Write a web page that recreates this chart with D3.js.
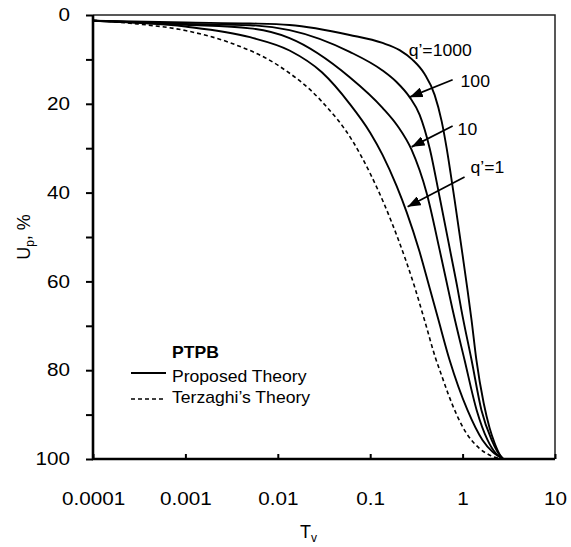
<!DOCTYPE html>
<html>
<head>
<meta charset="utf-8">
<script src="https://cdn.jsdelivr.net/npm/d3@7"></script>
<style>
  body { margin: 0; background: #fff; }
  text { font-family: "Liberation Sans", Arial, sans-serif; fill: #000; }
</style>
</head>
<body>
<svg id="chart" width="571" height="547"></svg>
<script>
// values (Tv, Up %)
const tvTerzaghi = [0.0001, 0.0003, 0.001, 0.003, 0.01, 0.03, 0.065, 0.1, 0.2, 0.3, 0.388, 0.51, 0.6, 0.7, 0.87, 1.1, 1.5, 2.0, 2.75];
const upTerzaghi = [1.2, 2.0, 3.5, 6.2, 11.3, 19.5, 28.5, 35.7, 50.4, 61.0, 68.8, 77.3, 81.5, 85.4, 90.2, 94.2, 97.5, 99.2, 100];

const tvQ1 = [0.0001, 0.001, 0.005, 0.0134, 0.03, 0.06, 0.1, 0.136, 0.193, 0.248, 0.343, 0.44, 0.54, 0.723, 1.13, 1.64, 2.11, 2.75];
const upQ1 = [1.3, 2.6, 5.0, 8.0, 12.9, 20.0, 26.5, 31.5, 38.5, 44.4, 53.4, 61.5, 68.2, 77.7, 89, 95.7, 98.4, 100];

const tvQ10 = [0.0001, 0.001, 0.005, 0.0134, 0.06, 0.136, 0.198, 0.281, 0.408, 0.564, 0.70, 0.78, 1.05, 1.42, 1.86, 2.3, 2.75];
const upQ10 = [1.3, 2.2, 3.0, 5.2, 14, 20.9, 25.0, 30.4, 40.1, 52.9, 61.9, 66.4, 77.7, 89, 95.7, 98.8, 100];

const tvQ100 = [0.0001, 0.001, 0.005, 0.0134, 0.06, 0.136, 0.193, 0.267, 0.343, 0.44, 0.564, 0.75, 0.88, 0.97, 1.25, 1.60, 2.06, 2.39, 2.75];
const upQ100 = [1.3, 2.0, 2.3, 3.4, 8.3, 12.5, 15.1, 18.5, 22.5, 30.0, 41.0, 54.1, 61.5, 66.4, 77.7, 89, 95.7, 98.4, 100];

const tvQ1000 = [0.0001, 0.001, 0.005, 0.0134, 0.06, 0.136, 0.208, 0.288, 0.388, 0.498, 0.593, 0.672, 0.741, 0.82, 1.0, 1.13, 1.25, 1.41, 1.69, 1.96, 2.22, 2.51, 2.75];
const upQ1000 = [1.3, 1.7, 1.9, 2.25, 4.5, 6.3, 7.9, 10.1, 13.3, 18.0, 23.9, 30.0, 35.6, 41.7, 54.1, 61.9, 68.7, 77.7, 87.4, 93.0, 96.4, 98.9, 100];

const xTicks = [0.0001, 0.001, 0.01, 0.1, 1, 10];
const xTickLabels = ["0.0001", "0.001", "0.01", "0.1", "1", "10"];
const yTicks = [0, 10, 20, 30, 40, 50, 60, 70, 80, 90, 100];
const yLabelTicks = [0, 20, 40, 60, 80, 100];

const legendTitle = "PTPB";
const legendLabels = ["Proposed Theory", "Terzaghi\u2019s Theory"];
const curveLabels = ["q\u2019=1000", "100", "10", "q\u2019=1"];

const width = 571, height = 547;
const margin = { left: 93, right: 16, top: 15, bottom: 88 };

const svg = d3.select("#chart");

const x = d3.scaleLog().domain([0.0001, 10]).range([margin.left, width - margin.right]);
const y = d3.scaleLinear().domain([0, 100]).range([margin.top, height - margin.bottom]);

// stretch text a little sideways, the original font runs wider than Arial
function widen(sel, sx) {
	sel.each(function() {
		let t = d3.select(this);
		let x0 = +t.attr("x") || 0;
		t.attr("x", x0 / sx).attr("transform", "scale(" + sx + ",1)");
	});
}

// frame (top and right)
svg.append("path")
	.attr("d", "M" + x.range()[0] + "," + y.range()[0] + "H" + x.range()[1] + "V" + y.range()[1])
	.attr("fill", "none")
	.attr("stroke", "#222")
	.attr("stroke-width", 1.5);

// y axis
let yAxis = svg.append("g")
	.attr("transform", "translate(" + margin.left + ",0)")
	.call(d3.axisLeft(y)
		.tickValues(yTicks)
		.tickSize(7)
		.tickPadding(16)
		.tickFormat(d => yLabelTicks.includes(d) ? d : ""));
yAxis.select(".domain").remove();
yAxis.selectAll(".tick line").attr("stroke", "#000").attr("stroke-width", 2);
yAxis.selectAll(".tick text")
	.attr("font-size", 18)
	.attr("font-family", null);
widen(yAxis.selectAll(".tick text"), 1.15);

// x axis, ticks point inward
let xAxis = svg.append("g")
	.attr("transform", "translate(0," + y.range()[1] + ")")
	.call(d3.axisBottom(x)
		.tickValues(xTicks)
		.tickSize(-5)
		.tickPadding(33)
		.tickFormat((d, i) => xTickLabels[i]));
xAxis.select(".domain").remove();
xAxis.selectAll(".tick line").attr("stroke", "#000").attr("stroke-width", 2);
xAxis.selectAll(".tick text")
	.attr("font-size", 18)
	.attr("font-family", null);
widen(xAxis.selectAll(".tick text"), 1.15);

// heavy left and bottom axis lines
svg.append("path")
	.attr("d", "M" + x.range()[0] + "," + y.range()[0] + "V" + y.range()[1] + "H" + x.range()[1])
	.attr("fill", "none")
	.attr("stroke", "#000")
	.attr("stroke-width", 2.6);

// axis titles
let xTitle = svg.append("text")
	.attr("x", 300)
	.attr("y", 538)
	.attr("font-size", 18);
xTitle.append("tspan").text("T");
xTitle.append("tspan").attr("font-size", 12).attr("dy", 4).text("v");

let yTitle = svg.append("text")
	.attr("transform", "translate(30," + ((y.range()[0] + y.range()[1]) / 2) + ") rotate(-90)")
	.attr("text-anchor", "middle")
	.attr("font-size", 18);
yTitle.append("tspan").text("U");
yTitle.append("tspan").attr("font-size", 12).attr("dy", 4).text("p");
yTitle.append("tspan").attr("dy", -4).text(", %");

// curves
let line = d3.line()
	.x(d => x(d[0]))
	.y(d => y(d[1]))
	.curve(d3.curveMonotoneX);

function drawCurve(tv, up, dashed) {
	let pts = tv.map((t, i) => [t, up[i]]);
	svg.append("path")
		.datum(pts)
		.attr("d", line)
		.attr("fill", "none")
		.attr("stroke", "#000")
		.attr("stroke-width", dashed ? 1.6 : 1.9)
		.attr("stroke-dasharray", dashed ? "4,3" : null);
}

drawCurve(tvTerzaghi, upTerzaghi, true);
drawCurve(tvQ1, upQ1, false);
drawCurve(tvQ10, upQ10, false);
drawCurve(tvQ100, upQ100, false);
drawCurve(tvQ1000, upQ1000, false);

// arrow heads
svg.append("defs").append("marker")
	.attr("id", "head")
	.attr("markerUnits", "userSpaceOnUse")
	.attr("markerWidth", 14)
	.attr("markerHeight", 10)
	.attr("refX", 13)
	.attr("refY", 5)
	.attr("orient", "auto")
	.append("path")
	.attr("d", "M0,0L13,5L0,10Z")
	.attr("fill", "#000");

// curve labels, placed in data space: [Tv, Up] of text start
let labelPos = [[0.261, 9.2], [0.951, 16.2], [0.883, 27], [1.22, 35.6]];
// arrows from label to curve: [fromTv, fromUp, toTv, toUp]
let arrowPos = [null, [0.78, 14.6, 0.267, 18.5], [0.78, 25, 0.281, 29.7], [1.05, 36.5, 0.254, 43.2]];

curveLabels.forEach((lab, i) => {
	let t = svg.append("text")
		.attr("x", x(labelPos[i][0]))
		.attr("y", y(labelPos[i][1]))
		.attr("font-size", 16)
		.text(lab);
	widen(t, 1.1);
	if (arrowPos[i]) {
		let a = arrowPos[i];
		svg.append("line")
			.attr("x1", x(a[0])).attr("y1", y(a[1]))
			.attr("x2", x(a[2])).attr("y2", y(a[3]))
			.attr("stroke", "#000")
			.attr("stroke-width", 1.7)
			.attr("marker-end", "url(#head)");
	}
});

// legend
let lg = svg.append("g").attr("transform", "translate(131,358)");
let lt = lg.append("text")
	.attr("x", 41)
	.attr("y", 0)
	.attr("font-size", 16)
	.attr("font-weight", "bold")
	.text(legendTitle);
widen(lt, 1.1);
legendLabels.forEach((lab, i) => {
	lg.append("line")
		.attr("x1", 0).attr("x2", 35)
		.attr("y1", 15 + i * 26).attr("y2", 15 + i * 26)
		.attr("stroke", "#000")
		.attr("stroke-width", i === 0 ? 1.9 : 1.6)
		.attr("stroke-dasharray", i === 0 ? null : "4,3");
	let t = lg.append("text")
		.attr("x", 41)
		.attr("y", 24 + i * 21)
		.attr("font-size", 16)
		.text(lab);
	widen(t, 1.1);
});
</script>
</body>
</html>
